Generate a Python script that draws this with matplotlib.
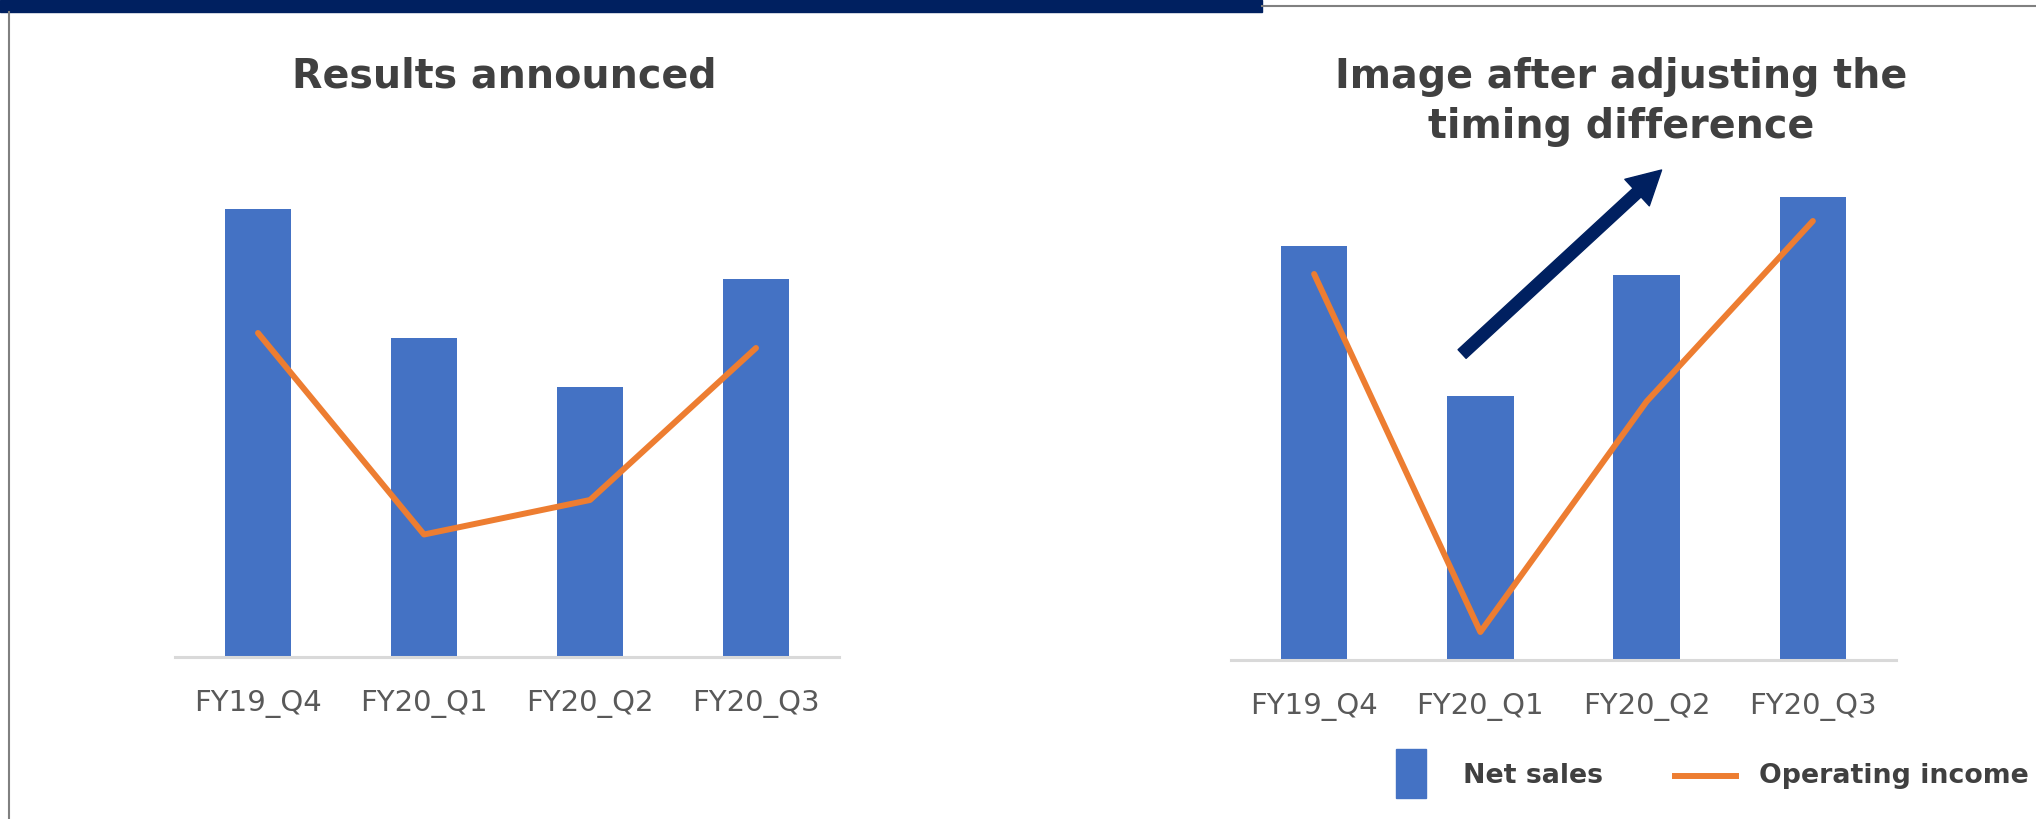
#!/usr/bin/env python3
"""
Results announced vs. image after adjusting the timing difference
"""
import matplotlib.pyplot as plt
from matplotlib.lines import Line2D
from matplotlib.patches import Rectangle

# Data (relative index values)
quarters = ["FY19_Q4", "FY20_Q1", "FY20_Q2", "FY20_Q3"]
announced_sales = [89.6, 63.8, 54.0, 75.7]
announced_income = [64.8, 24.5, 31.4, 61.8]
adjusted_sales = [82.8, 52.9, 77.1, 92.7]
adjusted_income = [77.2, 5.6, 51.7, 87.8]

BLUE = "#4472C4"
ORANGE = "#ED7D31"
NAVY = "#002060"
TITLE_GRAY = "#404040"
TICK_GRAY = "#595959"

W, H = 2036, 819


def px_axes(fig, x0, x1, y_top, y_base):
    # axes placed by pixel edges (y measured from the top)
    return fig.add_axes([x0 / W, (H - y_base) / H, (x1 - x0) / W,
                         (y_base - y_top) / H])


def draw_panel(ax, sales, income):
    x = range(len(quarters))
    ax.bar(x, sales, width=0.4, color=BLUE, zorder=2)
    ax.plot(x, income, color=ORANGE, lw=4.3, solid_capstyle="round",
            solid_joinstyle="round", zorder=3)
    ax.set_xlim(-0.5, 3.5)
    ax.set_ylim(0, 100)
    ax.set_xticks(list(x))
    ax.set_xticklabels(quarters, fontsize=21, color=TICK_GRAY)
    ax.tick_params(axis="x", length=0, pad=23.5)
    ax.set_yticks([])
    for side in ["top", "right", "left"]:
        ax.spines[side].set_visible(False)
    ax.spines["bottom"].set_color("#D9D9D9")
    ax.spines["bottom"].set_linewidth(2.2)


fig = plt.figure(figsize=(W / 100, H / 100), dpi=100)

# slide decorations: navy band, thin gray rule, left border
fig.patches.append(Rectangle((0, 1 - 12 / H), 1262 / W, 12 / H,
                             transform=fig.transFigure, color=NAVY))
fig.lines.append(Line2D([1262 / W, 1], [1 - 6 / H, 1 - 6 / H],
                        transform=fig.transFigure, color="#808080", lw=1.5))
fig.lines.append(Line2D([9 / W, 9 / W], [0, 1 - 12 / H],
                        transform=fig.transFigure, color="#808080", lw=1.5))

ax_left = px_axes(fig, 175, 839, 157, 657)
draw_panel(ax_left, announced_sales, announced_income)

ax_right = px_axes(fig, 1231, 1896, 160, 660)
draw_panel(ax_right, adjusted_sales, adjusted_income)

# upward arrow on the adjusted panel
ax_right.annotate("", xy=(2.09, 98), xytext=(0.89, 61.2),
                  arrowprops=dict(width=8.5, headwidth=26, headlength=24,
                                  color=NAVY, shrink=0),
                  annotation_clip=False)

# titles
fig.text(504 / W, 1 - 77 / H, "Results announced", ha="center",
         va="center", fontsize=28.5, fontweight="bold", color=TITLE_GRAY)
fig.text(1621 / W, 1 - 102 / H, "Image after adjusting the\ntiming difference",
         ha="center", va="center", fontsize=28.5, fontweight="bold",
         color=TITLE_GRAY, linespacing=1.3)

# legend drawn by hand so the text can run off the right edge like the slide
fig.patches.append(Rectangle((1396 / W, 1 - 798 / H), 30 / W, 49 / H,
                             transform=fig.transFigure, color=BLUE))
fig.text(1463 / W, 1 - 776 / H, "Net sales", ha="left", va="center",
         fontsize=19.3, fontweight="bold", color=TITLE_GRAY)
fig.lines.append(Line2D([1675 / W, 1736 / W], [1 - 776 / H, 1 - 776 / H],
                        transform=fig.transFigure, color=ORANGE, lw=4.3))
fig.text(1759 / W, 1 - 776 / H, "Operating income", ha="left", va="center",
         fontsize=19.3, fontweight="bold", color=TITLE_GRAY)

fig.savefig("out.png", dpi=100)
